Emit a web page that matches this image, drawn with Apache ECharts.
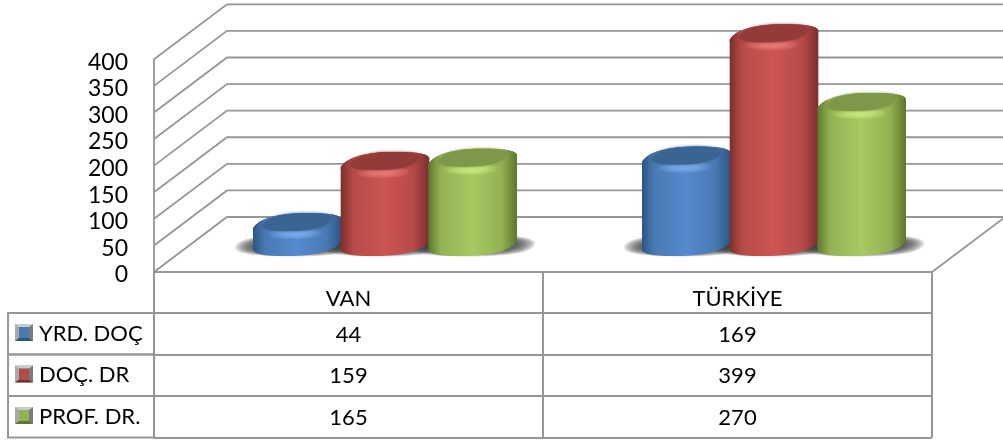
<!DOCTYPE html>
<html><head><meta charset="utf-8">
<style>html,body{margin:0;padding:0;background:#fff}#c{width:1003px;height:440px}</style>
<script src="https://cdn.jsdelivr.net/npm/echarts@6/dist/echarts.min.js"></script>
</head><body><div id="c"></div>
<script>
const categories = ['VAN', 'TÜRKİYE'];
const seriesNames = ['YRD. DOÇ', 'DOÇ. DR', 'PROF. DR.'];
const yrdDoc = [44, 169];
const docDr = [159, 399];
const profDr = [165, 270];
const yTicks = [0, 50, 100, 150, 200, 250, 300, 350, 400];

const allValues = [yrdDoc, docDr, profDr];
const palette = [
  {edge:'#2c5583', mid:'#4a7ab4', light:'#568ace', top:'#3a6491', hi:'140,192,255'},
  {edge:'#7a2e2c', mid:'#b54b48', light:'#cc5552', top:'#933b38', hi:'255,143,138'},
  {edge:'#5d772c', mid:'#93b254', light:'#a6ca62', top:'#7c9848', hi:'216,255,142'}
];
const GRID = '#969696', FONT = 'Lato', FS = 22;
const DX = 73, DY = 55;
const POW = 0.82;

function sp(v) { return Math.sign(v) * Math.pow(Math.abs(v), POW); }
function ell(cx, cy, a, bx, by, from, to) {
  const pts = [], n = 72;
  for (let i = 0; i <= n; i++) {
    const t = from + (to - from) * i / n;
    const c = sp(Math.cos(t)), s = sp(Math.sin(t));
    pts.push([cx + a * c + bx * s, cy - by * s]);
  }
  return pts;
}
function extremeAngle(a, bx) {
  let best = 0, bv = -1e9;
  for (let i = 0; i < 360; i++) {
    const t = i / 180 * Math.PI;
    const v = a * sp(Math.cos(t)) + bx * sp(Math.sin(t));
    if (v > bv) { bv = v; best = t; }
  }
  return best;
}
function hgrad(p) {
  return {type:'linear', x:0, y:0, x2:1, y2:0, colorStops:[
    {offset:0, color:p.edge},{offset:.14, color:p.mid},{offset:.5, color:p.light},
    {offset:.82, color:p.mid},{offset:1, color:p.edge}]};
}
function barGeom(api, cat, s, v) {
  const band = api.size([1, 0])[0];
  const w = band * 0.2254;
  const base = api.coord([cat, 0]);
  const cx = base[0] + DX / 2 + (s - 1) * w;
  const top = api.coord([cat, v]);
  return {cx, w, by: DY * 0.21, bx: DX * 0.17, a: w / 2 * 0.94,
          yb: base[1] - DY / 2, yt: top[1] - DY / 2 + 3.5};
}

function renderBar(params, api) {
  const s = api.value(2), cat = api.value(0), v = api.value(1);
  const g = barGeom(api, cat, s, v), p = palette[s];
  const t0 = extremeAngle(g.a, g.bx);
  const outline = ell(g.cx, g.yb, g.a, g.bx, g.by, t0, t0 - Math.PI)
    .concat(ell(g.cx, g.yt, g.a, g.bx, g.by, t0 - Math.PI, t0 - 2 * Math.PI));
  const full = (cy, k) => ell(g.cx, cy, g.a * k, g.bx * k, g.by * k, 0, 2 * Math.PI);
  const glow = [];
  for (let k = 1; k >= 0.25; k -= 0.15) {
    glow.push({type:'polygon', shape:{points:ell(g.cx - 2, g.yt + g.by * .78, 26 * k, 2 * k, 5.5 * k, 0, 2 * Math.PI)},
      style:{fill:'rgba(' + p.hi + ',0.16)'}});
  }
  return {type:'group', children:[
    {type:'polygon', shape:{points:outline}, style:{fill:hgrad(p)}},
    {type:'polygon', shape:{points:full(g.yt, 1)}, style:{fill:hgrad(p)}},
    ...glow,
    {type:'polygon', shape:{points:full(g.yt - g.by * .22, .78)},
      style:{fill:p.top, shadowBlur:3, shadowColor:p.top}}
  ]};
}
function renderShadow(params, api) {
  const g = barGeom(api, api.value(0), api.value(2), 0);
  const kids = [];
  for (let k = 1.5; k >= 1.0; k -= 0.05) {
    kids.push({type:'polygon', shape:{points:ell(g.cx, g.yb + 1, g.a * k, g.bx * 0.5, g.by * (0.5 + (k - 1) * 0.9), 0, 2 * Math.PI)},
      style:{fill:'rgba(60,60,60,0.15)'}});
  }
  return {type:'group', children:kids};
}
function renderGrid(params, api) {
  const y = api.coord([0, api.value(0)])[1];
  const L = params.coordSys.x;
  const R = L + params.coordSys.width;
  return {type:'polyline', shape:{points:[[L, y], [L + DX, y - DY], [R + DX + 40, y - DY]]},
    style:{stroke:GRID, lineWidth:1.8, fill:null}};
}
function renderFloorSide(params, api) {
  const c = params.coordSys;
  const y = c.y + c.height, R = c.x + c.width;
  return {type:'line', shape:{x1:R, y1:y, x2:R + DX, y2:y - DY}, style:{stroke:GRID, lineWidth:1.8}};
}
function renderCell(params, api) {
  const pt = api.coord([api.value(0), api.value(1)]);
  return {type:'text', x:pt[0], y:pt[1] + 1, style:{text:String(api.value(2)), font:FS + 'px ' + FONT, fill:'#000', align:'center', verticalAlign:'middle'}};
}
function renderStub(params, api) {
  const c = params.coordSys;
  const band = api.size([1, 0])[0];
  const x = c.x + api.value(0) * band;
  return {type:'line', shape:{x1:x, y1:272, x2:x, y2:c.y}, style:{stroke:GRID, lineWidth:2}};
}
function renderFrame(params, api) {
  const c = params.coordSys, r = api.value(0);
  const rowH = c.height / seriesNames.length;
  const yt = c.y + r * rowH, yb = yt + rowH;
  const p = palette[r], x = 15, y = yt + 11, w = 18, h = 17, iy = 3, ix = 4;
  const X = 8;
  return {type:'group', children:[
    {type:'polyline', shape:{points:[[c.x, yt], [X, yt], [X, yb], [c.x, yb]]}, style:{stroke:GRID, lineWidth:2, fill:null}},
    {type:'rect', shape:{x, y, width:w, height:h}, style:{fill:'#a9a9a9'}},
    {type:'polygon', shape:{points:[[x + w, y], [x + w, y + h], [x + w - ix, y + h - iy], [x + w - ix, y + iy]]}, style:{fill:'#7b7b7b'}},
    {type:'polygon', shape:{points:[[x, y], [x + w, y], [x + w - ix, y + iy], [x + ix, y + iy]]}, style:{fill:'#c4ccd4'}},
    {type:'polygon', shape:{points:[[x, y + h], [x + w, y + h], [x + w - ix, y + h - iy], [x + ix, y + h - iy]]}, style:{fill:p.edge}},
    {type:'rect', shape:{x:x + ix, y:y + iy, width:w - 2 * ix, height:h - 2 * iy}, style:{fill:p.mid}},
    {type:'text', x:39, y:(yt + yb) / 2, style:{text:seriesNames[r], font:FS + 'px ' + FONT, fill:'#000', align:'left', verticalAlign:'middle'}}
  ]};
}

const barSeries = allValues.map((vals, s) => ({
  type:'custom', name:seriesNames[s], xAxisIndex:0, yAxisIndex:0, z:5 + s,
  renderItem:renderBar, clip:false,
  data:vals.map((v, c) => [c, v, s]), encode:{x:0, y:1}
}));
const shadowData = [];
allValues.forEach((vals, s) => vals.forEach((v, c) => shadowData.push([c, v, s])));
const cellData = [];
allValues.forEach((vals, s) => vals.forEach((v, c) => cellData.push([c, s, v])));

const chart = echarts.init(document.getElementById('c'));
chart.setOption({
  animation:false,
  backgroundColor:'#fff',
  grid:[
    {left:154, right:71, top:59.3, height:212.7, containLabel:false},
    {left:154, right:71, top:313, height:124.5, containLabel:false},
    {left:154, right:71, top:62.3, height:212.7, containLabel:false}
  ],
  xAxis:[
    {type:'category', gridIndex:0, data:categories, position:'bottom',
     axisLine:{show:true, lineStyle:{color:GRID, width:1.8}}, axisTick:{show:false},
     axisLabel:{fontFamily:FONT, fontSize:FS, color:'#000', margin:16, interval:0},
     splitLine:{show:false}},
    {type:'category', gridIndex:1, data:categories, position:'top',
     axisLine:{show:true, lineStyle:{color:GRID, width:2}}, axisTick:{show:false}, axisLabel:{show:false},
     splitLine:{show:true, interval:0, lineStyle:{color:GRID, width:2}}},
    {type:'category', gridIndex:2, data:categories, show:false}
  ],
  yAxis:[
    {type:'value', gridIndex:0, min:0, max:400, interval:50,
     axisLine:{show:true, lineStyle:{color:GRID, width:1.8}}, axisTick:{show:false},
     axisLabel:{show:false}, splitLine:{show:false}},
    {type:'category', gridIndex:1, inverse:true, data:seriesNames,
     axisLine:{show:true, lineStyle:{color:GRID, width:2}}, axisTick:{show:false}, axisLabel:{show:false},
     splitLine:{show:true, interval:0, lineStyle:{color:GRID, width:2}}},
    {type:'value', gridIndex:2, min:0, max:400, interval:50,
     axisLine:{show:false}, axisTick:{show:false}, splitLine:{show:false},
     axisLabel:{fontFamily:FONT, fontSize:23, color:'#000', margin:26}}
  ],
  series:[
    {type:'custom', name:'grid', xAxisIndex:0, yAxisIndex:0, z:1, clip:false, silent:true,
     renderItem:renderGrid, data:yTicks.map(t => [t]), encode:{y:0}},
    {type:'custom', name:'floor', xAxisIndex:0, yAxisIndex:0, z:1, clip:false, silent:true,
     renderItem:renderFloorSide, data:[[0]]},
    {type:'custom', name:'shadow', xAxisIndex:0, yAxisIndex:0, z:3, clip:false, silent:true,
     renderItem:renderShadow, data:shadowData},
    ...barSeries,
    {type:'custom', name:'cells', xAxisIndex:1, yAxisIndex:1, z:5, clip:false,
     renderItem:renderCell, data:cellData},
    {type:'custom', name:'stubs', xAxisIndex:1, yAxisIndex:1, z:2, clip:false, silent:true,
     renderItem:renderStub, data:[[0],[1],[2]]},
    {type:'custom', name:'keys', xAxisIndex:1, yAxisIndex:1, z:5, clip:false,
     renderItem:renderFrame, data:seriesNames.map((n, i) => [i])}
  ]
});
</script></body></html>
